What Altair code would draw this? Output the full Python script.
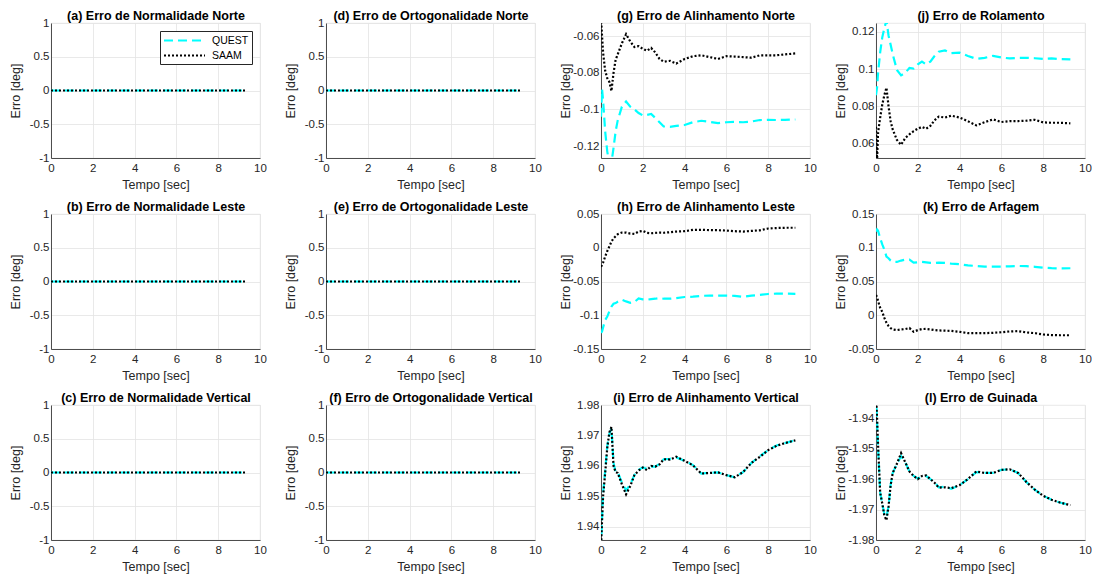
import altair as alt
import pandas as pd

# ---------------- data ----------------
SERIES = ["QUEST", "SAAM"]
COLORS = ["#00ffff", "#000000"]

T_ZERO = [0, 9.3]
ZERO = [0, 0]

T = [0, 0.05, 0.1, 0.2, 0.3, 0.4, 0.5, 0.6, 0.7, 0.8,
     1.0, 1.2, 1.4, 1.6, 1.8, 2.0, 2.2, 2.4, 2.6, 2.8,
     3.0, 3.3, 3.6, 4.0, 4.4, 4.8, 5.2, 5.6, 6.0, 6.4,
     6.8, 7.2, 7.6, 8.0, 8.4, 8.8, 9.3]

g_quest = [-0.104, -0.089, -0.095, -0.112, -0.123, -0.130, -0.129, -0.121, -0.112, -0.106,
           -0.0985, -0.0957, -0.0985, -0.100, -0.102, -0.1033, -0.103, -0.1025, -0.1047, -0.107,
           -0.1093, -0.1095, -0.109, -0.1085, -0.107, -0.1062, -0.1068, -0.1075, -0.107, -0.1068,
           -0.107, -0.1066, -0.1058, -0.1057, -0.1058, -0.1057, -0.1055]
g_saam = [-0.050, -0.060, -0.069, -0.079, -0.083, -0.085, -0.090, -0.080, -0.073, -0.070,
          -0.064, -0.059, -0.063, -0.066, -0.0655, -0.067, -0.068, -0.0665, -0.069, -0.0725,
          -0.074, -0.0735, -0.075, -0.0725, -0.071, -0.0705, -0.0715, -0.0725, -0.071, -0.0712,
          -0.0715, -0.0718, -0.0705, -0.0705, -0.0705, -0.070, -0.0695]

j_quest = [0.086, 0.090, 0.098, 0.109, 0.117, 0.122, 0.126, 0.118, 0.113, 0.108,
           0.0995, 0.0966, 0.098, 0.1006, 0.1002, 0.1025, 0.104, 0.1025, 0.104, 0.107,
           0.1093, 0.110, 0.1085, 0.1088, 0.107, 0.1055, 0.106, 0.1071, 0.1062, 0.1057,
           0.106, 0.106, 0.1058, 0.1054, 0.1057, 0.1053, 0.1052]
j_saam = [0.069, 0.051, 0.066, 0.074, 0.081, 0.086, 0.090, 0.080, 0.072, 0.0676,
          0.062, 0.0594, 0.063, 0.065, 0.0667, 0.068, 0.069, 0.068, 0.0695, 0.0725,
          0.0745, 0.074, 0.075, 0.074, 0.072, 0.0698, 0.0715, 0.073, 0.0716, 0.0721,
          0.0721, 0.0723, 0.0728, 0.0714, 0.0712, 0.0712, 0.0709]

h_quest = [-0.126, -0.124, -0.118, -0.107, -0.102, -0.094, -0.087, -0.083, -0.082, -0.080,
           -0.077, -0.0795, -0.0815, -0.0805, -0.075, -0.0765, -0.077, -0.076, -0.0755, -0.0745,
           -0.0755, -0.0755, -0.0745, -0.073, -0.0725, -0.0712, -0.0709, -0.0709, -0.0709, -0.0712,
           -0.0728, -0.071, -0.0699, -0.0685, -0.068, -0.068, -0.0682]
h_saam = [-0.028, -0.026, -0.022, -0.013, -0.005, 0.002, 0.009, 0.014, 0.017, 0.020,
          0.0225, 0.0225, 0.021, 0.0205, 0.024, 0.025, 0.022, 0.0215, 0.022, 0.0225,
          0.0222, 0.023, 0.024, 0.0245, 0.0265, 0.0266, 0.0262, 0.026, 0.0255, 0.0245,
          0.024, 0.025, 0.0258, 0.0285, 0.0292, 0.0296, 0.0296]

k_quest = [0.124, 0.127, 0.125, 0.114, 0.105, 0.097, 0.087, 0.0845, 0.081, 0.079,
           0.079, 0.081, 0.0825, 0.0825, 0.078, 0.0785, 0.079, 0.0782, 0.0775, 0.0772,
           0.078, 0.0775, 0.0765, 0.0757, 0.0738, 0.073, 0.072, 0.072, 0.0722, 0.0725,
           0.073, 0.0728, 0.0718, 0.0705, 0.0698, 0.0694, 0.0696]
k_saam = [0.030, 0.027, 0.021, 0.011, 0.005, -0.004, -0.011, -0.016, -0.019, -0.021,
          -0.022, -0.021, -0.0205, -0.019, -0.0245, -0.022, -0.0205, -0.0202, -0.021, -0.022,
          -0.0225, -0.0228, -0.0232, -0.0245, -0.0265, -0.0266, -0.0265, -0.026, -0.0252, -0.024,
          -0.0235, -0.0255, -0.0265, -0.0285, -0.0293, -0.0296, -0.0296]

i_quest = [1.933, 1.943, 1.951, 1.9585, 1.9665, 1.9705, 1.9722, 1.961, 1.958, 1.958,
           1.9545, 1.952, 1.954, 1.957, 1.9587, 1.9595, 1.959, 1.9598, 1.9598, 1.9607,
           1.9622, 1.9623, 1.9628, 1.9617, 1.9603, 1.9575, 1.9578, 1.9579, 1.957, 1.9563,
           1.958, 1.961, 1.9632, 1.9652, 1.9667, 1.9675, 1.9684]
i_saam = [1.933, 1.942, 1.950, 1.9577, 1.966, 1.971, 1.9728, 1.960, 1.958, 1.9577,
          1.954, 1.9507, 1.9534, 1.957, 1.9585, 1.9595, 1.9586, 1.960, 1.9598, 1.9605,
          1.9622, 1.9621, 1.963, 1.9617, 1.9602, 1.9575, 1.9577, 1.9579, 1.957, 1.9563,
          1.958, 1.961, 1.963, 1.9652, 1.9666, 1.9675, 1.9684]

l_quest = [-1.932, -1.941, -1.950, -1.9645, -1.968, -1.9715, -1.9725, -1.969, -1.962, -1.958,
           -1.955, -1.9525, -1.9545, -1.9575, -1.959, -1.9598, -1.9592, -1.959, -1.960, -1.961,
           -1.9627, -1.9625, -1.9632, -1.962, -1.960, -1.9577, -1.958, -1.958, -1.957, -1.9568,
           -1.958, -1.961, -1.9635, -1.9655, -1.9668, -1.9677, -1.9686]
l_saam = [-1.932, -1.940, -1.949, -1.9645, -1.968, -1.972, -1.9735, -1.969, -1.962, -1.958,
          -1.955, -1.9515, -1.9545, -1.9575, -1.959, -1.960, -1.959, -1.9588, -1.960, -1.9612,
          -1.9628, -1.9627, -1.963, -1.962, -1.960, -1.9575, -1.958, -1.958, -1.957, -1.9568,
          -1.958, -1.961, -1.9635, -1.9655, -1.9668, -1.9677, -1.9686]

TICKS_UNIT = [-1, -0.5, 0, 0.5, 1]
X_TICKS = [0, 2, 4, 6, 8, 10]

FONT = "Liberation Sans"
TXT = "#262626"
GRID = "#e3e3e3"

# ---------------- panels (row-major) ----------------
PANELS = [
    ("(a) Erro de Normalidade Norte", T_ZERO, ZERO, T_ZERO, ZERO, [-1, 1], TICKS_UNIT),
    ("(d) Erro de Ortogonalidade Norte", T_ZERO, ZERO, T_ZERO, ZERO, [-1, 1], TICKS_UNIT),
    ("(g) Erro de Alinhamento Norte", T, g_quest, T, g_saam, [-0.1265, -0.0529], [-0.12, -0.1, -0.08, -0.06]),
    ("(j) Erro de Rolamento", T, j_quest, T, j_saam, [0.0523, 0.1247], [0.06, 0.08, 0.1, 0.12]),
    ("(b) Erro de Normalidade Leste", T_ZERO, ZERO, T_ZERO, ZERO, [-1, 1], TICKS_UNIT),
    ("(e) Erro de Ortogonalidade Leste", T_ZERO, ZERO, T_ZERO, ZERO, [-1, 1], TICKS_UNIT),
    ("(h) Erro de Alinhamento Leste", T, h_quest, T, h_saam, [-0.15, 0.05], [-0.15, -0.1, -0.05, 0, 0.05]),
    ("(k) Erro de Arfagem", T, k_quest, T, k_saam, [-0.05, 0.15], [-0.05, 0, 0.05, 0.1, 0.15]),
    ("(c) Erro de Normalidade Vertical", T_ZERO, ZERO, T_ZERO, ZERO, [-1, 1], TICKS_UNIT),
    ("(f) Erro de Ortogonalidade Vertical", T_ZERO, ZERO, T_ZERO, ZERO, [-1, 1], TICKS_UNIT),
    ("(i) Erro de Alinhamento Vertical", T, i_quest, T, i_saam, [1.9357, 1.98], [1.94, 1.95, 1.96, 1.97, 1.98]),
    ("(l) Erro de Guinada", T, l_quest, T, l_saam, [-1.98, -1.9357], [-1.98, -1.97, -1.96, -1.95, -1.94]),
]

LABEL_EXPR = "replace(format(datum.value, '~g'), '\u2212', '-')"


def panel(title, tq, q, ts, s, ydom, yticks, with_legend):
    df = pd.DataFrame({
        "t": list(tq) + list(ts),
        "v": list(q) + list(s),
        "s": [SERIES[0]] * len(q) + [SERIES[1]] * len(s),
    })
    if with_legend:
        leg = alt.Legend(
            orient="top-right", offset=8, title=None,
            symbolType="M-4.1,0H4.1", symbolSize=100, symbolStrokeWidth=2.2,
            symbolOffset=15, labelOffset=21, labelFontSize=10.5, labelFont=FONT,
            labelColor="#000000", strokeColor=TXT, fillColor="#ffffff",
            padding=3, rowPadding=3,
        )
    else:
        leg = None
    lines = alt.Chart(df).mark_line(clip=True, strokeWidth=2.2).encode(
        x=alt.X("t:Q", scale=alt.Scale(domain=[0, 10], nice=False),
                axis=alt.Axis(values=X_TICKS, title="Tempo [sec]", format="d",
                              labelFlush=False, labelOverlap=False)),
        y=alt.Y("v:Q", scale=alt.Scale(domain=ydom, nice=False, zero=False),
                axis=alt.Axis(values=yticks, title="Erro [deg]", labelExpr=LABEL_EXPR,
                              labelOverlap=False, labelFlush=False)),
        color=alt.Color("s:N", scale=alt.Scale(domain=SERIES, range=COLORS), legend=leg),
        strokeDash=alt.StrokeDash("s:N", scale=alt.Scale(domain=SERIES, range=[[9, 5], [2, 2]]), legend=leg),
    )
    # panel title carried by a label-less top axis, so every title sits at the same height
    header = alt.Chart(df).mark_line(opacity=0).encode(
        x=alt.X("t:Q", axis=alt.Axis(orient="top", title=title, labels=False, ticks=False,
                                      domain=False, grid=False, titleFontWeight="bold",
                                      titleFontSize=12.5, titleColor="#000000", titlePadding=1)),
        y=alt.value(0),
    )
    return alt.layer(lines, header).resolve_axis(x="independent").properties(width=209, height=135)


charts = [panel(*p, with_legend=(n == 0)) for n, p in enumerate(PANELS)]

chart = (
    alt.concat(*charts, columns=4, spacing={"row": 56, "column": 66}, bounds="flush")
    .resolve_scale(x="independent", y="independent", color="independent", strokeDash="independent")
    .resolve_legend(color="independent", strokeDash="independent")
    .properties(padding={"left": 0, "top": 0, "right": 0, "bottom": 0}, background="white")
    .configure_axis(
        labelFont=FONT, labelFontSize=11.5, labelColor=TXT,
        titleFont=FONT, titleFontSize=12.5, titleFontWeight="normal", titleColor=TXT,
        domainColor=TXT, domainWidth=0.8, gridColor=GRID, gridWidth=0.8, ticks=False,
    )
    .configure_axisX(labelPadding=4, titlePadding=5)
    .configure_axisY(labelPadding=2, minExtent=28, maxExtent=28, titlePadding=1)
    .configure_view(stroke=GRID, strokeWidth=0.8)
)

chart.save("out.html", embed_options={"renderer": "svg", "actions": False})
